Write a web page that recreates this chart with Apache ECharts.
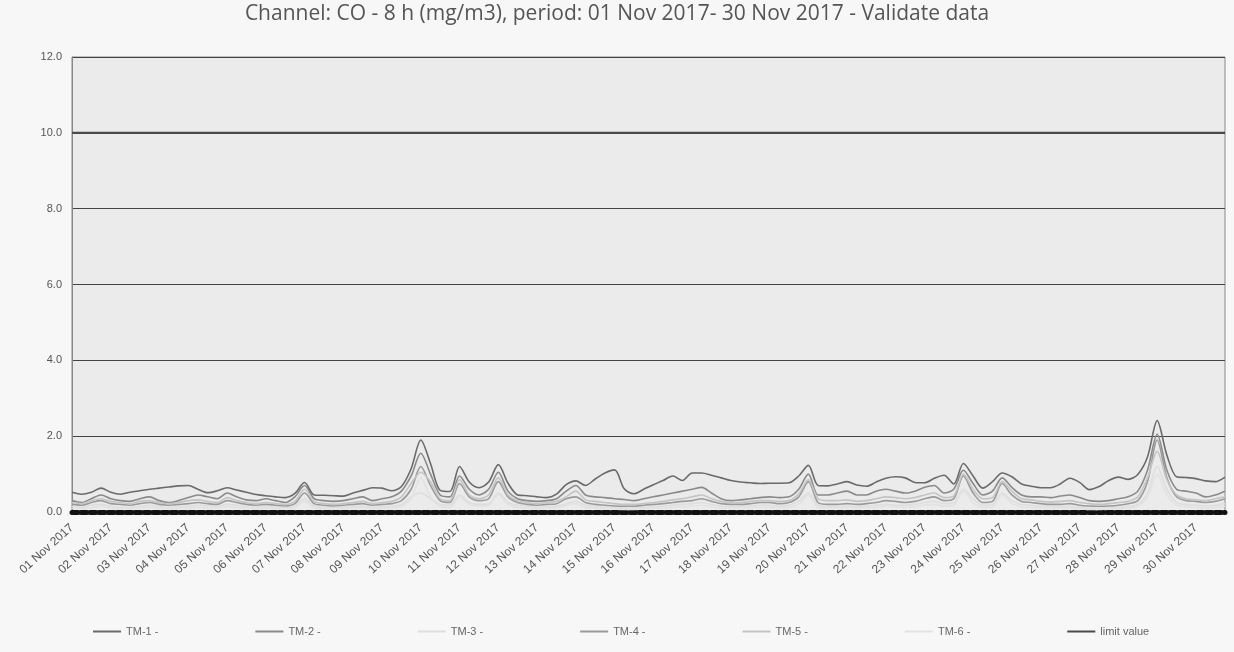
<!DOCTYPE html>
<html>
<head>
<meta charset="utf-8">
<script src="https://cdn.jsdelivr.net/npm/echarts@6/dist/echarts.min.js"></script>
<style>
  html, body { margin: 0; padding: 0; background: #f7f7f7; }
  #chart { width: 1234px; height: 652px; }
</style>
</head>
<body>
<div id="chart"></div>
<script>
// one label per day, four readings per day (every 6 h)
const days = [];
for (let d = 1; d <= 30; d++) days.push((d < 10 ? '0' + d : '' + d) + ' Nov 2017');
const hours = ['00:00', '06:00', '12:00', '18:00'];
const yTicks = [0, 2, 4, 6, 8, 10, 12];
const limitValue = 10;

const tm1 = [
  .52,.47,.52,.63, .52,.47,.52,.56, .60,.63,.66,.69, .70,.60,.51,.56, .64,.58,.52,.46,
  .43,.40,.38,.49, .78,.45,.44,.43, .42,.50,.57,.64, .63,.56,.67,1.14, 1.90,1.28,.57,.54,
  1.20,.79,.64,.79, 1.25,.76,.45,.43, .40,.38,.47,.72, .82,.70,.87,1.03, 1.11,.61,.48,.60,
  .72,.83,.95,.83, 1.03,1.03,.97,.90, .83,.79,.77,.75, .76,.76,.77,.95, 1.23,.70,.69,.74,
  .80,.71,.68,.79, .89,.93,.90,.78, .77,.89,.97,.74, 1.28,.95,.63,.80, 1.03,.93,.74,.68,
  .64,.64,.74,.89, .78,.59,.67,.83, .92,.86,.99,1.45, 2.41,1.50,.93,.91, .88,.82,.80,.92
];
const tm2 = [
  .30,.25,.35,.45, .35,.30,.28,.35, .40,.30,.25,.30, .38,.45,.40,.35, .50,.40,.32,.30,
  .35,.30,.25,.40, .70,.35,.30,.28, .30,.35,.40,.30, .35,.40,.55,.95, 1.55,1.00,.45,.40,
  .95,.60,.45,.60, 1.05,.55,.35,.30, .28,.30,.35,.55, .70,.45,.40,.38, .35,.33,.30,.35,
  .40,.45,.50,.55, .60,.65,.50,.35, .30,.32,.35,.38, .40,.38,.40,.60, 1.00,.45,.45,.50,
  .55,.45,.45,.55, .60,.55,.50,.55, .65,.70,.50,.60, 1.10,.75,.45,.55, .90,.65,.45,.40,
  .40,.38,.42,.45, .38,.30,.28,.30, .35,.40,.55,1.10, 2.05,1.10,.60,.55, .50,.40,.45,.55
];
const tm3 = [
  .15,.12,.18,.20, .15,.12,.12,.15, .18,.14,.12,.14, .15,.18,.16,.14, .20,.18,.14,.12,
  .14,.12,.12,.15, .35,.15,.12,.12, .12,.14,.15,.12, .14,.15,.20,.40, .50,.35,.20,.18,
  .45,.25,.20,.22, .50,.25,.18,.15, .12,.14,.15,.22, .28,.18,.14,.12, .12,.10,.10,.12,
  .14,.15,.18,.20, .22,.25,.20,.15, .14,.14,.15,.18, .18,.15,.18,.28, .50,.18,.14,.14,
  .15,.14,.15,.18, .20,.18,.18,.20, .25,.28,.22,.25, .60,.35,.18,.20, .50,.30,.20,.18,
  .15,.14,.14,.15, .12,.10,.10,.12, .12,.15,.20,.50, 1.20,.60,.25,.20, .18,.16,.18,.22
];
const tm4 = [
  .20,.18,.25,.30, .22,.20,.18,.22, .25,.20,.18,.20, .22,.25,.22,.20, .30,.25,.20,.18,
  .20,.18,.16,.22, .50,.22,.18,.16, .18,.20,.22,.18, .20,.22,.30,.60, 1.20,.70,.30,.25,
  .75,.40,.30,.35, .80,.40,.25,.20, .18,.20,.22,.35, .40,.25,.20,.18, .16,.15,.15,.18,
  .20,.22,.25,.28, .30,.35,.28,.22, .20,.20,.22,.25, .25,.22,.25,.40, .80,.25,.20,.20,
  .22,.20,.22,.25, .30,.28,.25,.28, .35,.40,.30,.35, .95,.50,.25,.28, .75,.45,.28,.25,
  .22,.20,.20,.22, .18,.16,.15,.16, .18,.22,.30,.80, 1.90,.90,.40,.30, .28,.25,.28,.35
];
const tm5 = [
  .25,.22,.30,.35, .28,.25,.22,.28, .30,.25,.22,.25, .30,.32,.28,.25, .38,.30,.25,.22,
  .25,.22,.20,.28, .60,.28,.22,.20, .22,.25,.28,.22, .25,.28,.40,.75, 1.05,.80,.35,.30,
  .85,.45,.35,.45, .90,.45,.30,.25, .22,.25,.28,.40, .55,.32,.28,.25, .22,.20,.20,.22,
  .25,.28,.32,.35, .40,.45,.35,.28, .25,.25,.28,.30, .30,.28,.30,.48, .85,.35,.30,.30,
  .32,.28,.30,.35, .40,.38,.35,.38, .45,.50,.38,.42, 1.00,.60,.35,.38, .80,.55,.35,.32,
  .28,.26,.28,.30, .25,.22,.20,.22, .25,.28,.40,.90, 1.60,.85,.45,.35, .32,.30,.35,.40
];
const tm6 = [
  .10,.08,.12,.15, .10,.08,.08,.10, .12,.10,.08,.10, .10,.12,.10,.10, .14,.12,.10,.08,
  .10,.08,.08,.10, .28,.10,.08,.08, .08,.10,.10,.08, .10,.10,.15,.35, .90,.40,.15,.12,
  .40,.20,.15,.18, .45,.20,.12,.10, .08,.10,.10,.18, .22,.12,.10,.08, .08,.07,.07,.08,
  .10,.10,.12,.14, .15,.18,.14,.10, .10,.10,.10,.12, .12,.10,.12,.20, .45,.12,.10,.10,
  .10,.10,.10,.12, .15,.14,.12,.14, .18,.20,.15,.18, .55,.25,.12,.14, .45,.22,.14,.12,
  .10,.10,.10,.10, .08,.07,.07,.08, .08,.10,.15,.40, 1.00,.45,.18,.14, .12,.10,.12,.15
];

const categories = [];
days.forEach(d => hours.forEach(h => categories.push(d + ' ' + h)));

const seriesDefs = [
  { name: 'TM-1 -', data: tm1, color: '#6a6a6a' },
  { name: 'TM-2 -', data: tm2, color: '#8a8a8a' },
  { name: 'TM-3 -', data: tm3, color: '#dedede' },
  { name: 'TM-4 -', data: tm4, color: '#9a9a9a' },
  { name: 'TM-5 -', data: tm5, color: '#c4c4c4' },
  { name: 'TM-6 -', data: tm6, color: '#e2e2e2' },
  { name: 'limit value', data: categories.map(() => limitValue), color: '#4a4a4a' }
];

const chart = echarts.init(document.getElementById('chart'));
chart.setOption({
  backgroundColor: '#f7f7f7',
  animation: false,
  title: {
    text: 'Channel: CO - 8 h (mg/m3), period: 01 Nov 2017- 30 Nov 2017 - Validate data',
    left: 612,
    textAlign: 'center',
    top: -1,
    textStyle: { fontFamily: 'Open Sans', fontSize: 21, fontWeight: 'normal', color: '#555' }
  },
  legend: {
    bottom: 10,
    left: 88,
    itemGap: 97,
    itemWidth: 28,
    itemHeight: 2,
    icon: 'rect',
    textStyle: { fontFamily: 'Liberation Sans', fontSize: 11, color: '#666' },
    data: seriesDefs.map(s => s.name)
  },
  grid: {
    left: 72, right: 9, top: 57, bottom: 140,
    show: true,
    backgroundColor: '#ebebeb',
    borderColor: '#888',
    borderWidth: 1
  },
  xAxis: {
    type: 'category',
    data: categories,
    boundaryGap: false,
    axisLine: { lineStyle: { color: '#111', width: 5, type: [6, 3] } },
    axisTick: { show: false },
    axisLabel: {
      interval: 3,
      rotate: 42,
      margin: 14,
      fontFamily: 'Liberation Sans',
      fontSize: 12,
      color: '#555',
      formatter: v => v.split(' ').slice(0, 3).join(' ')
    },
    splitLine: { show: false }
  },
  yAxis: {
    type: 'value',
    min: yTicks[0],
    max: yTicks[yTicks.length - 1],
    interval: 2,
    axisLine: { show: true, lineStyle: { color: '#888' } },
    axisTick: { show: false },
    axisLabel: {
      margin: 10,
      fontFamily: 'Liberation Sans',
      fontSize: 11,
      color: '#555',
      formatter: v => v.toFixed(1)
    },
    splitLine: { lineStyle: { color: '#444', width: 1.2 } }
  },
  series: seriesDefs.map(s => ({
    name: s.name,
    type: 'line',
    data: s.data,
    smooth: 0.3,
    symbol: 'none',
    lineStyle: { color: s.color, width: s.name === 'limit value' ? 2 : 1.6 },
    itemStyle: { color: s.color },
    z: s.name === 'TM-1 -' ? 5 : 3
  }))
});
</script>
</body>
</html>
